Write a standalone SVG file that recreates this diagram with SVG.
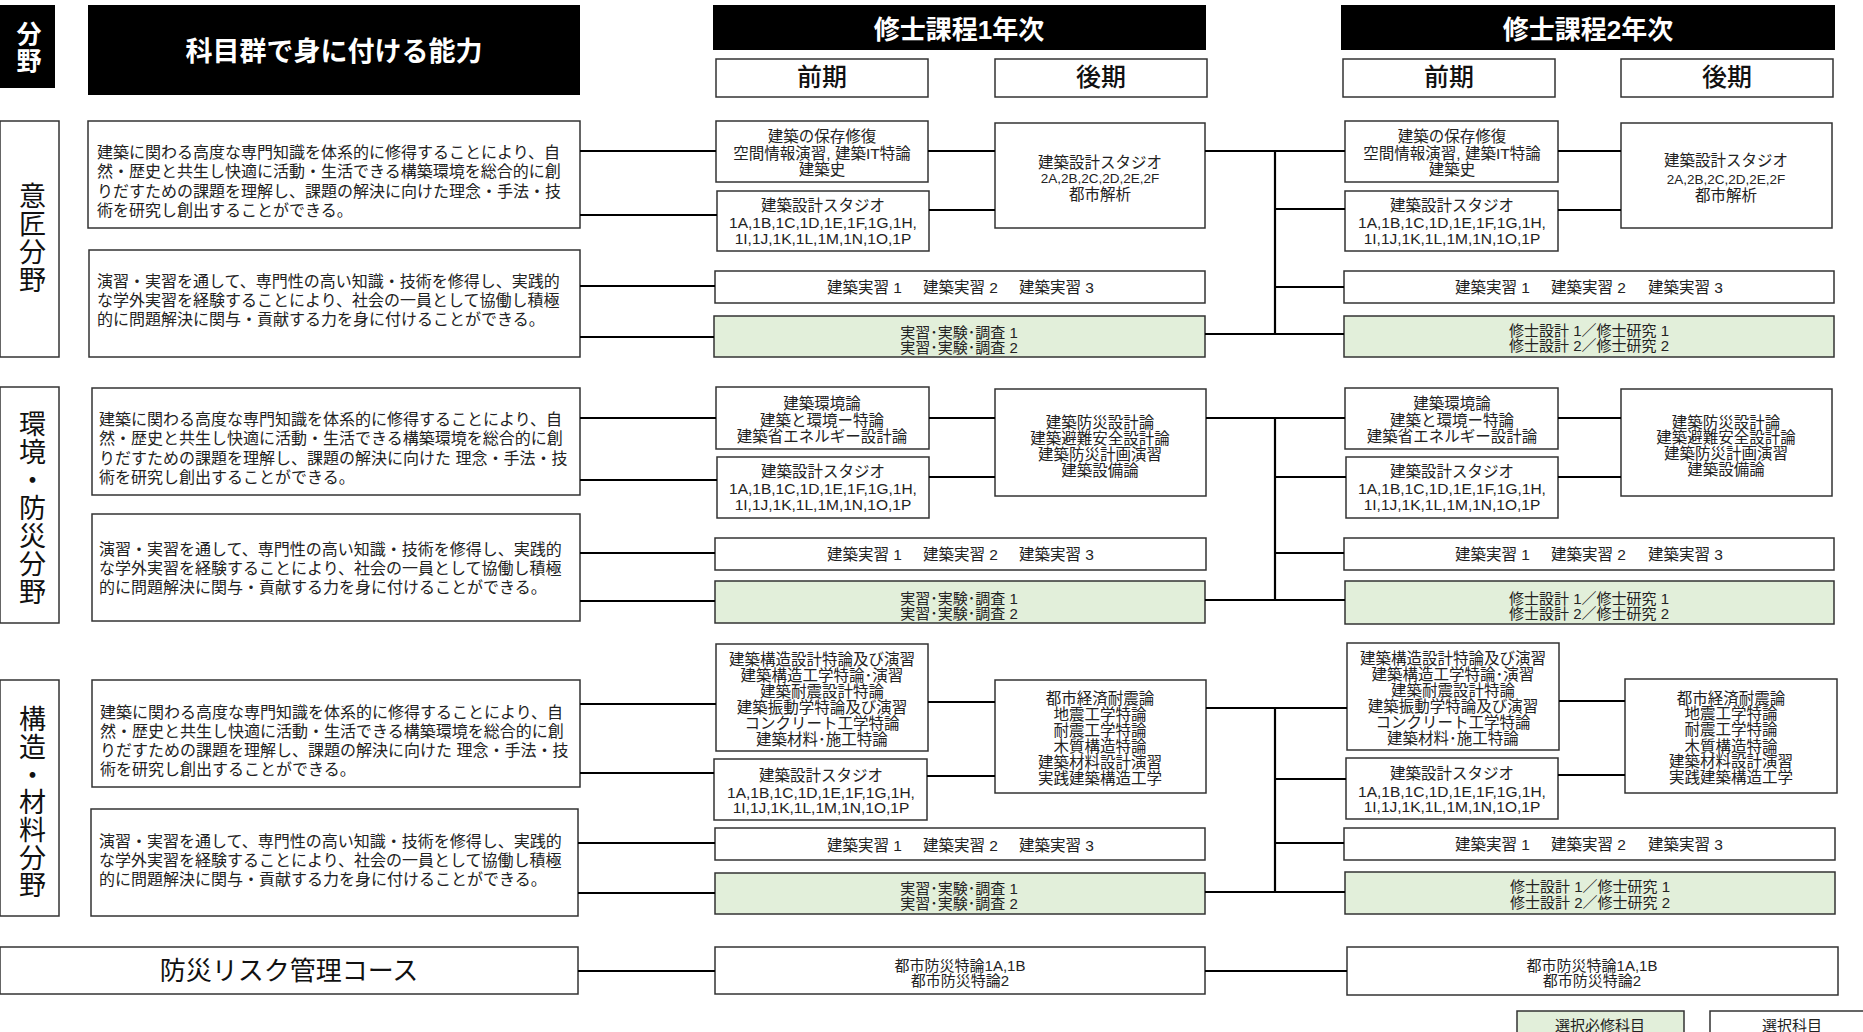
<svg xmlns="http://www.w3.org/2000/svg" width="1863" height="1032" viewBox="0 0 1863 1032">
<style>
text{font-family:"Liberation Sans","Noto Sans CJK JP",sans-serif;dominant-baseline:central;fill:#222}
.box{fill:#fff;stroke:#333;stroke-width:1.5}
.grn{fill:#e2efda;stroke:#333;stroke-width:1.5}
.blk{fill:#000}
.conn path{stroke:#000;stroke-width:2.2;fill:none}
.c{font-size:15px;text-anchor:middle}
.n16{font-size:15.5px;text-anchor:middle}
.n13{font-size:13.5px;text-anchor:middle}
.j14{font-size:15.5px}
.g{font-size:15.5px;text-anchor:middle}
.ab{font-size:16px}
.vl{font-size:27px;fill:#111;writing-mode:vertical-rl}
.whv{font-size:25px;fill:#fff;font-weight:bold;writing-mode:vertical-rl}
.wh{fill:#fff;font-weight:bold;text-anchor:middle}
.ph{font-size:25px;text-anchor:middle;fill:#111;font-weight:500}
.big{font-size:26px;text-anchor:middle;fill:#111}
</style>

<!-- headers -->
<g id="hdr-field"><rect class="blk" x="0" y="5" width="55" height="83"/><text class="whv" letter-spacing="2" x="27" y="20.5">分野</text></g>
<g id="hdr-ability"><rect class="blk" x="88" y="5" width="492" height="90"/><text class="wh" font-size="27" x="334" y="52">科目群で身に付ける能力</text></g>
<g id="hdr-y1"><rect class="blk" x="713" y="5" width="493" height="45"/><text class="wh" font-size="26" x="959" y="30">修士課程1年次</text></g>
<g id="hdr-y2"><rect class="blk" x="1341" y="5" width="494" height="45"/><text class="wh" font-size="26" x="1588" y="30">修士課程2年次</text></g>
<g id="hdr-y1-first"><rect class="box" x="716" y="59" width="212" height="38"/><text class="ph" x="822" y="77">前期</text></g>
<g id="hdr-y1-second"><rect class="box" x="995" y="59" width="212" height="38"/><text class="ph" x="1101" y="77">後期</text></g>
<g id="hdr-y2-first"><rect class="box" x="1343" y="59" width="212" height="38"/><text class="ph" x="1449" y="77">前期</text></g>
<g id="hdr-y2-second"><rect class="box" x="1621" y="59" width="212" height="38"/><text class="ph" x="1727" y="77">後期</text></g>

<!-- field labels -->
<g id="field-design"><rect class="box" x="0" y="121" width="59" height="236"/>
<text class="vl" letter-spacing="1" x="30" y="182.5">意匠分野</text></g>
<g id="field-env"><rect class="box" x="0" y="387" width="59" height="236"/>
<text class="vl" letter-spacing="1" x="30" y="410.5">環境・防災分野</text></g>
<g id="field-struct"><rect class="box" x="0" y="680" width="59" height="236"/>
<text class="vl" letter-spacing="0.7" x="30" y="705.5">構造・材料分野</text></g>
<g id="field-risk"><rect class="box" x="0" y="947" width="578" height="47"/><text class="big" x="289" y="971">防災リスク管理コース</text></g>

<!-- ability boxes -->
<g id="ab-design-1"><rect class="box" x="88" y="121" width="492" height="107"/>
<text class="ab"><tspan x="97" y="152">建築に関わる高度な専門知識を体系的に修得することにより、自</tspan><tspan x="97" y="171">然・歴史と共生し快適に活動・生活できる構築環境を総合的に創</tspan><tspan x="97" y="191">りだすための課題を理解し、課題の解決に向けた理念・手法・技</tspan><tspan x="97" y="210">術を研究し創出することができる。</tspan></text></g>
<g id="ab-design-2"><rect class="box" x="89" y="250" width="491" height="107"/>
<text class="ab"><tspan x="97" y="281">演習・実習を通して、専門性の高い知識・技術を修得し、実践的</tspan><tspan x="97" y="300">な学外実習を経験することにより、社会の一員として協働し積極</tspan><tspan x="97" y="319">的に問題解決に関与・貢献する力を身に付けることができる。</tspan></text></g>
<g id="ab-env-1"><rect class="box" x="92" y="388" width="488" height="107"/>
<text class="ab"><tspan x="99" y="419">建築に関わる高度な専門知識を体系的に修得することにより、自</tspan><tspan x="99" y="438">然・歴史と共生し快適に活動・生活できる構築環境を総合的に創</tspan><tspan x="99" y="458">りだすための課題を理解し、課題の解決に向けた 理念・手法・技</tspan><tspan x="99" y="477">術を研究し創出することができる。</tspan></text></g>
<g id="ab-env-2"><rect class="box" x="92" y="514" width="488" height="107"/>
<text class="ab"><tspan x="99" y="549">演習・実習を通して、専門性の高い知識・技術を修得し、実践的</tspan><tspan x="99" y="568">な学外実習を経験することにより、社会の一員として協働し積極</tspan><tspan x="99" y="587">的に問題解決に関与・貢献する力を身に付けることができる。</tspan></text></g>
<g id="ab-struct-1"><rect class="box" x="92" y="680" width="488" height="107"/>
<text class="ab"><tspan x="100" y="712">建築に関わる高度な専門知識を体系的に修得することにより、自</tspan><tspan x="100" y="731">然・歴史と共生し快適に活動・生活できる構築環境を総合的に創</tspan><tspan x="100" y="750">りだすための課題を理解し、課題の解決に向けた 理念・手法・技</tspan><tspan x="100" y="769">術を研究し創出することができる。</tspan></text></g>
<g id="ab-struct-2"><rect class="box" x="91" y="809" width="487" height="107"/>
<text class="ab"><tspan x="99" y="841">演習・実習を通して、専門性の高い知識・技術を修得し、実践的</tspan><tspan x="99" y="860">な学外実習を経験することにより、社会の一員として協働し積極</tspan><tspan x="99" y="879">的に問題解決に関与・貢献する力を身に付けることができる。</tspan></text></g>

<!-- Year 1, design -->
<g id="y1-d-a"><rect class="box" x="716" y="121" width="212" height="61"/>
<text class="g"><tspan x="822" y="136">建築の保存修復</tspan><tspan x="822" y="153">空間情報演習, 建築IT特論</tspan><tspan x="822" y="169">建築史</tspan></text></g>
<g id="y1-d-b"><rect class="box" x="717" y="191" width="212" height="60"/>
<text class="g" x="823" y="205">建築設計スタジオ</text><text class="n16"><tspan x="823" y="222">1A,1B,1C,1D,1E,1F,1G,1H,</tspan><tspan x="823" y="238">1I,1J,1K,1L,1M,1N,1O,1P</tspan></text></g>
<g id="y1-d-c"><rect class="box" x="995" y="123" width="210" height="105"/>
<text class="g" x="1100" y="162">建築設計スタジオ</text><text class="n13" x="1100" y="178">2A,2B,2C,2D,2E,2F</text><text class="g" x="1100" y="194">都市解析</text></g>
<g id="y1-d-p"><rect class="box" x="715" y="271" width="490" height="32"/>
<text class="j14" y="287"><tspan x="827">建築実習 1</tspan><tspan x="923">建築実習 2</tspan><tspan x="1019">建築実習 3</tspan></text></g>
<g id="y1-d-r"><rect class="grn" x="714" y="316" width="491" height="41"/>
<text class="c"><tspan x="959" y="332">実習･実験･調査 1</tspan><tspan x="959" y="347">実習･実験･調査 2</tspan></text></g>

<!-- Year 2, design -->
<g id="y2-d-a"><rect class="box" x="1345" y="121" width="213" height="61"/>
<text class="g"><tspan x="1452" y="136">建築の保存修復</tspan><tspan x="1452" y="153">空間情報演習, 建築IT特論</tspan><tspan x="1452" y="169">建築史</tspan></text></g>
<g id="y2-d-b"><rect class="box" x="1345" y="191" width="213" height="60"/>
<text class="g" x="1452" y="205">建築設計スタジオ</text><text class="n16"><tspan x="1452" y="222">1A,1B,1C,1D,1E,1F,1G,1H,</tspan><tspan x="1452" y="238">1I,1J,1K,1L,1M,1N,1O,1P</tspan></text></g>
<g id="y2-d-c"><rect class="box" x="1621" y="123" width="211" height="105"/>
<text class="g" x="1726" y="160">建築設計スタジオ</text><text class="n13" x="1726" y="179">2A,2B,2C,2D,2E,2F</text><text class="g" x="1726" y="195">都市解析</text></g>
<g id="y2-d-p"><rect class="box" x="1344" y="271" width="490" height="32"/>
<text class="j14" y="287"><tspan x="1455">建築実習 1</tspan><tspan x="1551">建築実習 2</tspan><tspan x="1648">建築実習 3</tspan></text></g>
<g id="y2-d-r"><rect class="grn" x="1344" y="316" width="490" height="41"/>
<text class="c"><tspan x="1589" y="330">修士設計 1／修士研究 1</tspan><tspan x="1589" y="345">修士設計 2／修士研究 2</tspan></text></g>

<!-- Year 1, env -->
<g id="y1-e-a"><rect class="box" x="716" y="387" width="213" height="62"/>
<text class="g"><tspan x="822" y="403">建築環境論</tspan><tspan x="822" y="420">建築と環境ー特論</tspan><tspan x="822" y="436">建築省エネルギー設計論</tspan></text></g>
<g id="y1-e-b"><rect class="box" x="717" y="457" width="212" height="61"/>
<text class="g" x="823" y="471">建築設計スタジオ</text><text class="n16"><tspan x="823" y="488">1A,1B,1C,1D,1E,1F,1G,1H,</tspan><tspan x="823" y="504">1I,1J,1K,1L,1M,1N,1O,1P</tspan></text></g>
<g id="y1-e-c"><rect class="box" x="995" y="389" width="211" height="107"/>
<text class="g"><tspan x="1100" y="422">建築防災設計論</tspan><tspan x="1100" y="438">建築避難安全設計論</tspan><tspan x="1100" y="454">建築防災計画演習</tspan><tspan x="1100" y="470">建築設備論</tspan></text></g>
<g id="y1-e-p"><rect class="box" x="715" y="538" width="491" height="32"/>
<text class="j14" y="554"><tspan x="827">建築実習 1</tspan><tspan x="923">建築実習 2</tspan><tspan x="1019">建築実習 3</tspan></text></g>
<g id="y1-e-r"><rect class="grn" x="715" y="581" width="490" height="42"/>
<text class="c"><tspan x="959" y="598">実習･実験･調査 1</tspan><tspan x="959" y="613">実習･実験･調査 2</tspan></text></g>

<!-- Year 2, env -->
<g id="y2-e-a"><rect class="box" x="1345" y="388" width="213" height="61"/>
<text class="g"><tspan x="1452" y="403">建築環境論</tspan><tspan x="1452" y="420">建築と環境ー特論</tspan><tspan x="1452" y="436">建築省エネルギー設計論</tspan></text></g>
<g id="y2-e-b"><rect class="box" x="1346" y="457" width="212" height="61"/>
<text class="g" x="1452" y="471">建築設計スタジオ</text><text class="n16"><tspan x="1452" y="488">1A,1B,1C,1D,1E,1F,1G,1H,</tspan><tspan x="1452" y="504">1I,1J,1K,1L,1M,1N,1O,1P</tspan></text></g>
<g id="y2-e-c"><rect class="box" x="1621" y="389" width="211" height="107"/>
<text class="g"><tspan x="1726" y="422">建築防災設計論</tspan><tspan x="1726" y="437">建築避難安全設計論</tspan><tspan x="1726" y="453">建築防災計画演習</tspan><tspan x="1726" y="469">建築設備論</tspan></text></g>
<g id="y2-e-p"><rect class="box" x="1344" y="538" width="490" height="32"/>
<text class="j14" y="554"><tspan x="1455">建築実習 1</tspan><tspan x="1551">建築実習 2</tspan><tspan x="1648">建築実習 3</tspan></text></g>
<g id="y2-e-r"><rect class="grn" x="1345" y="581" width="489" height="43"/>
<text class="c"><tspan x="1589" y="598">修士設計 1／修士研究 1</tspan><tspan x="1589" y="613">修士設計 2／修士研究 2</tspan></text></g>

<!-- Year 1, struct -->
<g id="y1-s-a"><rect class="box" x="716" y="644" width="212" height="107"/>
<text class="g"><tspan x="822" y="659">建築構造設計特論及び演習</tspan><tspan x="822" y="675">建築構造工学特論･演習</tspan><tspan x="822" y="691">建築耐震設計特論</tspan><tspan x="822" y="707">建築振動学特論及び演習</tspan><tspan x="822" y="723">コンクリート工学特論</tspan><tspan x="822" y="739">建築材料･施工特論</tspan></text></g>
<g id="y1-s-b"><rect class="box" x="714" y="759" width="213" height="61"/>
<text class="g" x="821" y="775">建築設計スタジオ</text><text class="n16"><tspan x="821" y="792">1A,1B,1C,1D,1E,1F,1G,1H,</tspan><tspan x="821" y="807">1I,1J,1K,1L,1M,1N,1O,1P</tspan></text></g>
<g id="y1-s-c"><rect class="box" x="995" y="680" width="211" height="113"/>
<text class="g"><tspan x="1100" y="698">都市経済耐震論</tspan><tspan x="1100" y="714">地震工学特論</tspan><tspan x="1100" y="730">耐震工学特論</tspan><tspan x="1100" y="746">木質構造特論</tspan><tspan x="1100" y="762">建築材料設計演習</tspan><tspan x="1100" y="778">実践建築構造工学</tspan></text></g>
<g id="y1-s-p"><rect class="box" x="715" y="828" width="490" height="32"/>
<text class="j14" y="845"><tspan x="827">建築実習 1</tspan><tspan x="923">建築実習 2</tspan><tspan x="1019">建築実習 3</tspan></text></g>
<g id="y1-s-r"><rect class="grn" x="715" y="873" width="490" height="41"/>
<text class="c"><tspan x="959" y="888">実習･実験･調査 1</tspan><tspan x="959" y="903">実習･実験･調査 2</tspan></text></g>

<!-- Year 2, struct -->
<g id="y2-s-a"><rect class="box" x="1347" y="643" width="212" height="107"/>
<text class="g"><tspan x="1453" y="658">建築構造設計特論及び演習</tspan><tspan x="1453" y="674">建築構造工学特論･演習</tspan><tspan x="1453" y="690">建築耐震設計特論</tspan><tspan x="1453" y="706">建築振動学特論及び演習</tspan><tspan x="1453" y="722">コンクリート工学特論</tspan><tspan x="1453" y="738">建築材料･施工特論</tspan></text></g>
<g id="y2-s-b"><rect class="box" x="1346" y="758" width="212" height="61"/>
<text class="g" x="1452" y="773">建築設計スタジオ</text><text class="n16"><tspan x="1452" y="791">1A,1B,1C,1D,1E,1F,1G,1H,</tspan><tspan x="1452" y="806">1I,1J,1K,1L,1M,1N,1O,1P</tspan></text></g>
<g id="y2-s-c"><rect class="box" x="1625" y="679" width="212" height="114"/>
<text class="g"><tspan x="1731" y="698">都市経済耐震論</tspan><tspan x="1731" y="713">地震工学特論</tspan><tspan x="1731" y="729">耐震工学特論</tspan><tspan x="1731" y="746">木質構造特論</tspan><tspan x="1731" y="761">建築材料設計演習</tspan><tspan x="1731" y="777">実践建築構造工学</tspan></text></g>
<g id="y2-s-p"><rect class="box" x="1344" y="828" width="491" height="32"/>
<text class="j14" y="844"><tspan x="1455">建築実習 1</tspan><tspan x="1551">建築実習 2</tspan><tspan x="1648">建築実習 3</tspan></text></g>
<g id="y2-s-r"><rect class="grn" x="1345" y="872" width="490" height="42"/>
<text class="c"><tspan x="1590" y="886">修士設計 1／修士研究 1</tspan><tspan x="1590" y="902">修士設計 2／修士研究 2</tspan></text></g>

<!-- risk course -->
<g id="y1-risk"><rect class="box" x="715" y="947" width="490" height="47"/>
<text class="c"><tspan x="960" y="965">都市防災特論1A,1B</tspan><tspan x="960" y="980">都市防災特論2</tspan></text></g>
<g id="y2-risk"><rect class="box" x="1347" y="947" width="491" height="48"/>
<text class="c"><tspan x="1592" y="965">都市防災特論1A,1B</tspan><tspan x="1592" y="980">都市防災特論2</tspan></text></g>

<!-- legend -->
<g id="legend-req"><rect class="grn" x="1517" y="1011" width="167" height="30"/><text class="c" x="1600" y="1025">選択必修科目</text></g>
<g id="legend-elec"><rect class="box" x="1710" y="1011" width="170" height="30"/><text class="c" x="1792" y="1025">選択科目</text></g>

<g class="conn" id="connectors">
<path d="M580 151H716M580 215H717M580 286H715M580 337H714M928 151H995M929 210H995M1205 151H1275M1205 334H1275M1275 150V335M1275 151H1345M1275 209H1345M1275 287H1344M1275 334H1344M1558 151H1621M1558 210H1621"/>
<path d="M580 418H716M580 480H717M580 553H715M580 601H715M929 418H995M929 477H995M1206 418H1275M1205 600H1275M1275 417V601M1275 418H1345M1275 477H1346M1275 553H1344M1275 600H1345M1558 418H1621M1558 477H1621"/>
<path d="M580 704H716M580 773H714M578 843H715M578 893H715M928 702H995M927 776H995M1206 708H1275M1205 892H1275M1275 707V893M1275 708H1347M1275 779H1346M1275 843H1344M1275 892H1345M1559 701H1625M1558 775H1625"/>
<path d="M578 971H715M1205 971H1347"/>
</g>
</svg>
